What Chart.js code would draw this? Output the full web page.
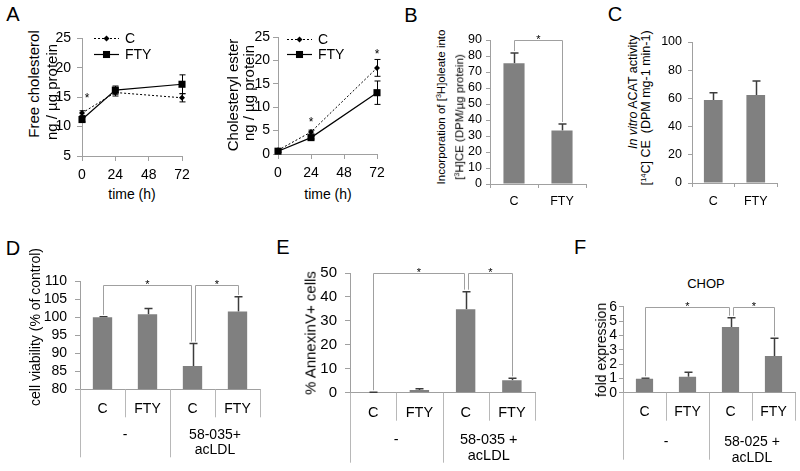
<!DOCTYPE html>
<html><head><meta charset="utf-8"><title>Figure</title>
<script src="https://cdn.jsdelivr.net/npm/chart.js@4.4.1/dist/chart.umd.min.js"></script>
<style>
html,body{margin:0;padding:0;background:#fff}
body{position:relative;width:800px;height:471px;overflow:hidden;font-family:'Liberation Sans',Arial,sans-serif;color:#000}
canvas{position:absolute}
.tx{position:absolute;white-space:nowrap;line-height:1;transform:translate(-50%,-50%);z-index:2}
.rot{transform:translate(-50%,-50%) rotate(-90deg)}
.lt{font-size:20px}
sup{font-size:0.62em;line-height:0;vertical-align:0.55em}
</style></head><body>
<div class="tx lt" style="left:13px;top:14px">A</div>
<div class="tx lt" style="left:411px;top:15px">B</div>
<div class="tx lt" style="left:615px;top:14px">C</div>
<div class="tx lt" style="left:13px;top:248px">D</div>
<div class="tx lt" style="left:283px;top:247px">E</div>
<div class="tx lt" style="left:580px;top:247px">F</div>

<div class="tx rot" style="left:33px;top:84px;font-size:15px">Free cholesterol</div>
<div class="tx rot" style="left:51px;top:92px;font-size:15px">ng / µg protein</div>
<div class="tx" style="left:132px;top:194px;font-size:14px">time (h)</div>
<div class="tx rot" style="left:232px;top:95px;font-size:15px">Cholesteryl ester</div>
<div class="tx rot" style="left:248px;top:93px;font-size:15px">ng / µg protein</div>
<div class="tx" style="left:328px;top:194px;font-size:14px">time (h)</div>
<div class="tx rot" style="left:442px;top:107px;font-size:11.5px">Incorporation of [<sup>3</sup>H]oleate into</div>
<div class="tx rot" style="left:460px;top:117px;font-size:11.5px">[<sup>3</sup>H]CE (DPM/µg protein)</div>
<div class="tx rot" style="left:633px;top:92px;font-size:12.5px"><i>In vitro</i> ACAT activity</div>
<div class="tx rot" style="left:646px;top:108px;font-size:12.5px">[<sup>14</sup>C] CE&nbsp; (DPM mg-1 min-1)</div>
<div class="tx rot" style="left:35px;top:327px;font-size:14px">cell viability (% of control)</div>
<div class="tx rot" style="left:310px;top:333px;font-size:15px">% AnnexinV+ cells</div>
<div class="tx rot" style="left:601px;top:350px;font-size:14px">fold expression</div>
<div class="tx" style="left:706px;top:283px;font-size:13px">CHOP</div>

<script>
// ---------------- data ----------------
const timeHours = [0, 24, 72];
const timeAxisTicks = [0, 24, 48, 72];
const seriesNames = ['C', 'FTY'];

const freeCholC = [12.3, 15.8, 14.9];
const freeCholCErr = [0.4, 0.6, 0.7];
const freeCholFTY = [11.2, 16.2, 17.2];
const freeCholFTYErr = [0.4, 0.7, 1.6];
const freeCholTicks = [5, 10, 15, 20, 25];
const freeCholStars = [{x: 3.6, y: 15.2}];

const cholEsterC = [0.8, 4.7, 18.4];
const cholEsterCErr = [0.3, 0.4, 1.8];
const cholEsterFTY = [0.6, 3.5, 13.1];
const cholEsterFTYErr = [0.3, 0.3, 2.5];
const cholEsterTicks = [0, 5, 10, 15, 20, 25];
const cholEsterStars = [{x: 24, y: 7.2}, {x: 72, y: 21.9}];

const twoCats = ['C', 'FTY'];
const oleateVals = [75.5, 33.5];
const oleateErr = [6.3, 4.0];
const oleateTicks = [0, 10, 20, 30, 40, 50, 60, 70, 80, 90];
const oleateBrackets = [{from: 0, to: 1, level: 90}];

const acatVals = [58.8, 62.4];
const acatErr = [5.2, 9.9];
const acatTicks = [0, 20, 40, 60, 80, 100];

const fourCats = ['C', 'FTY', 'C', 'FTY'];
const viabilityGroups = ['-', ['58-035+', 'acLDL']];
const viabilityVals = [100, 100.9, 86.5, 101.6];
const viabilityErr = [0.15, 1.6, 6.2, 4.1];
const viabilityTicks = [80, 85, 90, 95, 100, 105, 110];
const viabilityBrackets = [{from: 0, to: 2, level: 109.1}, {from: 2, to: 3, level: 109.1}];

const annexinGroups = ['-', ['58-035 +', 'acLDL']];
const annexinVals = [0.15, 1.1, 34.9, 5.2];
const annexinErr = [0.05, 0.6, 7.3, 0.8];
const annexinTicks = [0, 10, 20, 30, 40, 50];
const annexinBrackets = [{from: 0, to: 2, level: 50}, {from: 2, to: 3, level: 50}];

const chopGroups = ['-', ['58-025 +', 'acLDL']];
const chopVals = [0.98, 1.12, 4.58, 2.56];
const chopErr = [0.03, 0.3, 0.65, 1.24];
const chopTicks = [0, 1, 2, 3, 4, 5, 6];
const chopBrackets = [{from: 0, to: 2, level: 6}, {from: 2, to: 3, level: 6}];

// ---------------- style ----------------
const FONT = "'Liberation Sans', Arial, sans-serif";
const AXIS = '#a0a0a0';
const BAR = '#808080';
const ERRC = '#3c3c3c';
const BRK = '#a0a0a0';
const SEP = '#b8b8b8';

Chart.defaults.font.family = FONT;
Chart.defaults.color = '#000';
Chart.defaults.animation = false;
Chart.defaults.events = [];
Chart.defaults.plugins.legend.display = false;
Chart.defaults.plugins.tooltip.enabled = false;

function drawStar(ctx, x, cy, size) {
  ctx.save();
  ctx.fillStyle = '#000';
  ctx.font = size + 'px ' + FONT;
  ctx.textAlign = 'center';
  ctx.textBaseline = 'middle';
  ctx.fillText('*', x, cy + 0.23 * size);
  ctx.restore();
}
function drawMarker(ctx, style, r, x, y) {
  ctx.beginPath();
  if (Chart.helpers && Chart.helpers.drawPoint) {
    Chart.helpers.drawPoint(ctx, {pointStyle: style, rotation: 0, radius: r, borderWidth: 0}, x, y);
    return;
  }
  if (style === 'rect') { const s = r * Math.SQRT1_2; ctx.rect(x - s, y - s, 2 * s, 2 * s); }
  else { ctx.moveTo(x - r, y); ctx.lineTo(x, y - r); ctx.lineTo(x + r, y); ctx.lineTo(x, y + r); ctx.closePath(); }
  ctx.fill();
}

const annot = {
  id: 'annot',
  beforeDatasetsDraw(chart, args, o) {
    if (!o || !o.err) return;
    const ctx = chart.ctx, ys = chart.scales.y;
    ctx.save();
    o.err.forEach(e => {
      const meta = chart.getDatasetMeta(e.ds);
      const raw = chart.data.datasets[e.ds].data;
      ctx.strokeStyle = e.color; ctx.lineWidth = e.lw;
      meta.data.forEach((el, i) => {
        const v = typeof raw[i] === 'object' ? raw[i].y : raw[i];
        const x = Math.round(el.x) + 0.5;
        const yT = ys.getPixelForValue(v + e.errs[i]);
        const yB = e.both ? ys.getPixelForValue(v - e.errs[i]) : ys.getPixelForValue(v);
        ctx.beginPath();
        ctx.moveTo(x, yB); ctx.lineTo(x, yT);
        ctx.moveTo(x - e.cap, yT); ctx.lineTo(x + e.cap, yT);
        if (e.both) { ctx.moveTo(x - e.cap, yB); ctx.lineTo(x + e.cap, yB); }
        ctx.stroke();
      });
    });
    ctx.restore();
  },
  afterDatasetsDraw(chart, args, o) {
    if (!o) return;
    const ctx = chart.ctx, xs = chart.scales.x, ys = chart.scales.y, ca = chart.chartArea;
    ctx.save();
    if (o.sep) {
      const n = chart.data.labels.length;
      ctx.strokeStyle = SEP; ctx.lineWidth = 1;
      for (let i = 0; i <= n; i++) {
        let x = i === 0 ? ca.left : i === n ? ca.right : (xs.getPixelForValue(i - 1) + xs.getPixelForValue(i)) / 2;
        x = Math.round(x) + 0.5;
        const len = o.sep.groupBounds.includes(i) ? o.sep.groupLen : o.sep.tickLen;
        ctx.beginPath(); ctx.moveTo(x, ca.bottom); ctx.lineTo(x, ca.bottom + len); ctx.stroke();
      }
    }
    if (o.brackets) {
      ctx.strokeStyle = BRK; ctx.lineWidth = 1;
      o.brackets.forEach(b => {
        const nf = o.brackets.some(c => c !== b && c.to === b.from) ? 2 : 0;
        const nt = o.brackets.some(c => c !== b && c.from === b.to) ? -2 : 0;
        const x1 = Math.round(xs.getPixelForValue(b.from) + nf) + 0.5;
        const x2 = Math.round(xs.getPixelForValue(b.to) + nt) + 0.5;
        const yL = Math.round(ys.getPixelForValue(b.level)) + 0.5;
        const y1 = ys.getPixelForValue(o.tops[b.from]) - 2;
        const y2 = ys.getPixelForValue(o.tops[b.to]) - 2;
        ctx.beginPath(); ctx.moveTo(x1, y1); ctx.lineTo(x1, yL); ctx.lineTo(x2, yL); ctx.lineTo(x2, y2); ctx.stroke();
        drawStar(ctx, (x1 + x2) / 2, yL - 3, o.starSize || 11);
      });
    }
    if (o.stars) {
      o.stars.forEach(s => drawStar(ctx, xs.getPixelForValue(s.x), ys.getPixelForValue(s.y), o.starSize || 12));
    }
    if (o.legend) {
      const L = o.legend;
      chart.data.datasets.forEach((ds, k) => {
        const y = Math.round(ca.top + L.top + k * L.gap) + 0.5;
        const x0 = ca.left + L.left, x1 = x0 + L.len;
        ctx.strokeStyle = ds.borderColor; ctx.lineWidth = ds.borderWidth;
        ctx.setLineDash(ds.borderDash || []);
        ctx.beginPath(); ctx.moveTo(x0, y); ctx.lineTo(x1, y); ctx.stroke();
        ctx.setLineDash([]);
        ctx.fillStyle = ds.pointBackgroundColor;
        drawMarker(ctx, ds.pointStyle, ds.pointRadius, (x0 + x1) / 2, y);
        ctx.fillStyle = '#000';
        ctx.font = L.font + 'px ' + FONT;
        ctx.textAlign = 'left'; ctx.textBaseline = 'middle';
        ctx.fillText(ds.label, x1 + L.textGap, y + 0.5);
      });
    }
    ctx.restore();
  }
};
Chart.register(annot);

function linAxis(ticks, size, tl, pad) {
  return {
    type: 'linear', min: ticks[0], max: ticks[ticks.length - 1],
    ticks: {stepSize: ticks[1] - ticks[0], font: {size: size}, padding: pad, color: '#000', autoSkip: false, maxRotation: 0},
    grid: {drawOnChartArea: false, tickLength: tl, color: AXIS},
    border: {color: AXIS}
  };
}
function catAxis(size, pad, tick) {
  return {
    type: 'category', offset: true, weight: 0,
    ticks: {font: {size: size}, padding: pad, color: '#000', autoSkip: false, maxRotation: 0},
    grid: tick ? {offset: true, drawOnChartArea: false, tickLength: tick, color: AXIS} : {display: false, drawTicks: false},
    border: {color: AXIS}
  };
}
function groupAxis(labels, size, lh, pad) {
  return {
    type: 'category', labels: labels, offset: true, position: 'bottom', weight: 1,
    ticks: {font: {size: size, lineHeight: lh}, padding: pad, color: '#000', autoSkip: false, maxRotation: 0},
    grid: {display: false, drawTicks: false},
    border: {display: false}
  };
}

function mount(plot, yW, xHs, padR, config) {
  const cv = document.createElement('canvas');
  const left = Math.floor(plot.l - yW), top = Math.floor(plot.t - 14);
  const right = Math.min(800, Math.ceil(plot.r + padR));
  const totalXH = xHs.reduce((a, b) => a + b, 0);
  const bottom = Math.ceil(plot.b + totalXH);
  const w = right - left, h = bottom - top;
  cv.width = w; cv.height = h;
  cv.style.left = left + 'px'; cv.style.top = top + 'px';
  cv.style.width = w + 'px'; cv.style.height = h + 'px';
  document.body.appendChild(cv);
  const yWidth = plot.l - left;
  const lastXH = bottom - plot.b - (totalXH - xHs[xHs.length - 1]);
  config.options.responsive = false;
  config.options.maintainAspectRatio = false;
  config.options.devicePixelRatio = 1;
  config.options.layout = {padding: {left: 0, top: plot.t - top, right: right - plot.r, bottom: 0}};
  config.options.scales.y.afterFit = s => { s.width = yWidth; };
  const xIds = Object.keys(config.options.scales).filter(k => k[0] === 'x');
  xIds.forEach((k, i) => {
    const hh = i === xIds.length - 1 ? lastXH : xHs[i];
    config.options.scales[k].afterFit = s => { s.height = hh; };
  });
  return new Chart(cv, config);
}

function lineSets(cVals, fVals) {
  return [
    {label: seriesNames[0], data: timeHours.map((t, i) => ({x: t, y: cVals[i]})),
     borderColor: '#000', backgroundColor: '#000', pointBackgroundColor: '#000', pointBorderColor: '#000',
     borderWidth: 1, borderDash: [2, 2], pointStyle: 'rectRot', pointRadius: 3, pointBorderWidth: 0, clip: false},
    {label: seriesNames[1], data: timeHours.map((t, i) => ({x: t, y: fVals[i]})),
     borderColor: '#000', backgroundColor: '#000', pointBackgroundColor: '#000', pointBorderColor: '#000',
     borderWidth: 1.2, pointStyle: 'rect', pointRadius: 5, pointBorderWidth: 0, clip: false}
  ];
}
const tops = (v, e) => v.map((x, i) => x + e[i]);

// ---- A: free cholesterol ----
mount({l: 82, t: 38, r: 182, b: 156}, 40, [30], 16, {
  type: 'line',
  data: {datasets: lineSets(freeCholC, freeCholFTY)},
  options: {
    scales: {x: linAxis(timeAxisTicks, 14, 5, 6), y: linAxis(freeCholTicks, 14, 5, 6)},
    plugins: {annot: {
      err: [{ds: 0, errs: freeCholCErr, both: true, color: '#000', cap: 3, lw: 1},
            {ds: 1, errs: freeCholFTYErr, both: true, color: '#000', cap: 3, lw: 1}],
      stars: freeCholStars, starSize: 12,
      legend: {left: 12, top: -0.5, gap: 16, len: 25, textGap: 6, font: 14}
    }}
  }
});
// ---- A: cholesteryl ester ----
mount({l: 278, t: 37, r: 377, b: 154}, 40, [30], 16, {
  type: 'line',
  data: {datasets: lineSets(cholEsterC, cholEsterFTY)},
  options: {
    scales: {x: linAxis(timeAxisTicks, 14, 5, 6), y: linAxis(cholEsterTicks, 14, 5, 3)},
    plugins: {annot: {
      err: [{ds: 0, errs: cholEsterCErr, both: true, color: '#000', cap: 3, lw: 1},
            {ds: 1, errs: cholEsterFTYErr, both: true, color: '#000', cap: 3, lw: 1}],
      stars: cholEsterStars, starSize: 12,
      legend: {left: 9, top: 2, gap: 15, len: 25, textGap: 6, font: 14}
    }}
  }
});
// ---- B ----
mount({l: 490, t: 40, r: 586, b: 184}, 35, [28], 10, {
  type: 'bar',
  data: {labels: twoCats, datasets: [{data: oleateVals, backgroundColor: BAR, barPercentage: 0.44, categoryPercentage: 1}]},
  options: {
    scales: {x: catAxis(12.5, 6, 4), y: linAxis(oleateTicks, 12.5, 4, 4)},
    plugins: {annot: {
      err: [{ds: 0, errs: oleateErr, both: false, color: ERRC, cap: 4, lw: 1.5}],
      brackets: oleateBrackets, tops: tops(oleateVals, oleateErr), starSize: 11
    }}
  }
});
// ---- C ----
mount({l: 692, t: 42, r: 777, b: 183}, 35, [28], 10, {
  type: 'bar',
  data: {labels: twoCats, datasets: [{data: acatVals, backgroundColor: BAR, barPercentage: 0.44, categoryPercentage: 1}]},
  options: {
    scales: {x: catAxis(12.5, 7, 4), y: linAxis(acatTicks, 12.5, 4, 6)},
    plugins: {annot: {
      err: [{ds: 0, errs: acatErr, both: false, color: ERRC, cap: 4, lw: 1.5}]
    }}
  }
});
// ---- D ----
mount({l: 80, t: 279.3, r: 260, b: 389.3}, 45, [28, 48], 10, {
  type: 'bar',
  data: {labels: fourCats, datasets: [{data: viabilityVals, backgroundColor: BAR, barPercentage: 0.43, categoryPercentage: 1}]},
  options: {
    scales: {x: catAxis(14, 11.3, 0), x2: groupAxis(viabilityGroups, 14, 15 / 14, 10.2), y: linAxis(viabilityTicks, 14, 5, 8)},
    plugins: {annot: {
      err: [{ds: 0, errs: viabilityErr, both: false, color: ERRC, cap: 4, lw: 1.5}],
      brackets: viabilityBrackets, tops: tops(viabilityVals, viabilityErr), starSize: 11,
      sep: {groupBounds: [0, 2], tickLen: 28, groupLen: 68}
    }}
  }
});
// ---- E ----
mount({l: 350, t: 270.7, r: 535, b: 392.7}, 45, [28, 50], 10, {
  type: 'bar',
  data: {labels: fourCats, datasets: [{data: annexinVals, backgroundColor: BAR, barPercentage: 0.42, categoryPercentage: 1}]},
  options: {
    scales: {x: catAxis(14.5, 11.3, 0), x2: groupAxis(annexinGroups, 14.5, 16 / 14.5, 11.3), y: linAxis(annexinTicks, 15, 5, 8)},
    plugins: {annot: {
      err: [{ds: 0, errs: annexinErr, both: false, color: ERRC, cap: 4, lw: 1.5}],
      brackets: annexinBrackets, tops: tops(annexinVals, annexinErr), starSize: 11,
      sep: {groupBounds: [0, 2], tickLen: 28, groupLen: 70}
    }}
  }
});
// ---- F ----
mount({l: 623, t: 306.7, r: 795, b: 392.7}, 30, [28, 50], 5, {
  type: 'bar',
  data: {labels: fourCats, datasets: [{data: chopVals, backgroundColor: BAR, barPercentage: 0.4, categoryPercentage: 1}]},
  options: {
    scales: {x: catAxis(14, 11.3, 0), x2: groupAxis(chopGroups, 14, 16.3 / 14, 12.9), y: linAxis(chopTicks, 14, 4, 2)},
    plugins: {annot: {
      err: [{ds: 0, errs: chopErr, both: false, color: ERRC, cap: 4, lw: 1.5}],
      brackets: chopBrackets, tops: tops(chopVals, chopErr), starSize: 11,
      sep: {groupBounds: [0, 2], tickLen: 28, groupLen: 67}
    }}
  }
});
</script>
</body></html>
